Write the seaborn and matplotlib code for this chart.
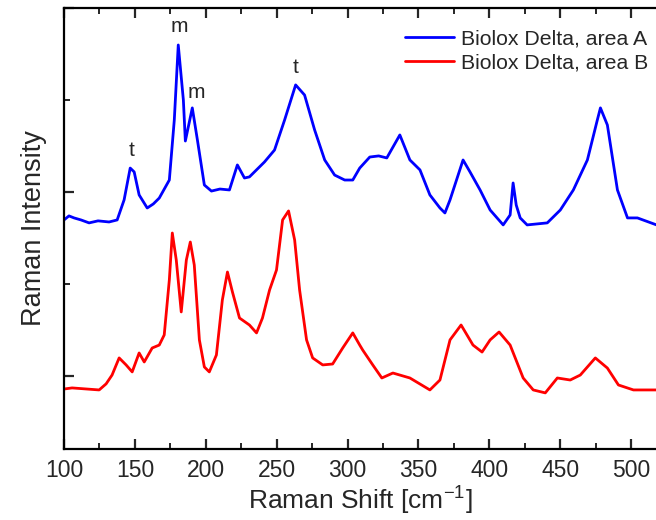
import numpy as np
import pandas as pd
import matplotlib
matplotlib.use("Agg")
import matplotlib.pyplot as plt
from matplotlib.ticker import MultipleLocator, NullFormatter
import seaborn as sns

# Area A (blue) spectrum
shift_a = [100.0, 103.5, 107.1, 112.0, 117.7, 124.0, 131.8, 137.5, 142.4, 146.7,
           149.5, 153.0, 158.7, 163.0, 167.2, 174.3, 177.8, 180.6, 184.2, 185.6,
           190.5, 194.1, 199.0, 204.0, 210.0, 216.7, 222.3, 227.3, 230.8, 241.4,
           248.5, 255.6, 263.4, 269.7, 276.8, 283.9, 290.9, 298.0, 303.7, 308.6,
           315.7, 322.0, 327.7, 336.9, 344.0, 351.1, 358.1, 365.2, 368.7, 372.3,
           381.5, 386.4, 393.5, 400.6, 409.8, 414.7, 416.8, 419.0, 421.8, 426.7,
           440.9, 450.1, 459.3, 469.2, 476.2, 478.4, 483.3, 490.4, 497.5, 504.5,
           518.0]
int_a = [848, 870, 859, 848, 832, 843, 837, 848, 957, 1130,
         1109, 984, 913, 935, 967, 1065, 1391, 1799, 1500, 1277,
         1457, 1283, 1038, 1005, 1016, 1011, 1147, 1076, 1082, 1163,
         1228, 1391, 1582, 1527, 1337, 1174, 1092, 1065, 1065, 1130,
         1190, 1196, 1185, 1310, 1174, 1120, 984, 913, 886, 957,
         1174, 1109, 1011, 902, 821, 875, 1049, 929, 859, 821,
         832, 902, 1011, 1174, 1391, 1457, 1364, 1011, 859, 859,
         821]

# Area B (red) spectrum
shift_b = [100.0, 105.7, 124.8, 129.7, 133.9, 138.9, 143.8, 148.1, 153.0, 156.6,
           162.2, 167.2, 170.7, 174.3, 176.4, 179.2, 182.7, 186.3, 189.1, 191.9,
           195.5, 199.0, 202.5, 207.5, 211.7, 215.3, 218.8, 223.8, 230.8, 235.8,
           240.0, 245.0, 249.9, 254.2, 258.4, 262.7, 266.2, 271.1, 275.4, 282.5,
           289.5, 296.6, 303.7, 308.6, 310.7, 317.8, 324.2, 332.0, 344.0, 358.1,
           365.2, 372.3, 380.1, 388.5, 394.9, 400.6, 406.9, 414.7, 423.9, 431.0,
           439.5, 448.0, 457.1, 464.2, 474.8, 483.3, 491.1, 501.7, 518.0]
int_b = [-71, -65, -76, -43, 5, 98, 60, 22, 125, 76,
         152, 168, 223, 522, 777, 630, 348, 630, 728, 603,
         196, 49, 22, 114, 413, 565, 457, 315, 277, 234,
         315, 467, 576, 848, 897, 739, 467, 196, 98, 60,
         65, 152, 234, 168, 141, 60, -11, 16, -11, -76,
         -22, 196, 277, 168, 130, 196, 239, 168, -11, -76,
         -92, -11, -22, 5, 98, 43, -49, -76, -76]

labels = ["Biolox Delta, area A", "Biolox Delta, area B"]
colors = ["#0000ff", "#ff0000"]

# Peak annotations
ann_text = ["t", "m", "m", "t"]
ann_x = [148, 181, 193, 263]
ann_y = [1228, 1897, 1543, 1674]

df = pd.concat([
    pd.DataFrame({"shift": shift_a, "intensity": int_a, "sample": labels[0]}),
    pd.DataFrame({"shift": shift_b, "intensity": int_b, "sample": labels[1]}),
], ignore_index=True)

sns.set_style("ticks")
plt.rcParams["font.family"] = ["Liberation Sans", "DejaVu Sans"]
plt.rcParams["mathtext.fontset"] = "custom"
plt.rcParams["mathtext.rm"] = "Liberation Sans"

fig = plt.figure(figsize=(6.56, 5.2), dpi=100)
ax = fig.add_axes([64/656, 71/520, 592/656, 441/520])

sns.lineplot(data=df, x="shift", y="intensity", hue="sample", palette=colors,
             hue_order=labels, linewidth=2.0, ax=ax, sort=False, estimator=None)

ax.set_xlim(100, 517.6)
ax.set_ylim(-397, 2000)
ax.xaxis.set_major_locator(MultipleLocator(50))
ax.xaxis.set_minor_locator(MultipleLocator(25))
ax.yaxis.set_major_locator(MultipleLocator(1000))
ax.yaxis.set_minor_locator(MultipleLocator(500))
ax.yaxis.set_major_formatter(NullFormatter())
ax.tick_params(axis="both", which="major", direction="in", length=7, width=1.6,
               top=True, right=False, labelsize=16.5, pad=7)
ax.tick_params(axis="both", which="minor", direction="in", length=4, width=1.4,
               top=True, right=False)
for s in ["left", "bottom", "top"]:
    ax.spines[s].set_linewidth(1.6)
    ax.spines[s].set_color("black")
ax.spines["right"].set_visible(False)

ax.set_xlabel("Raman Shift [cm$^{\\mathregular{-1}}$]", fontsize=19, labelpad=1)
ax.set_ylabel("Raman Intensity", fontsize=19.5, labelpad=5)

for t, x, y in zip(ann_text, ann_x, ann_y):
    ax.text(x, y, t, fontsize=15, ha="center", va="center")

leg = ax.legend(loc="upper right", bbox_to_anchor=(1.008, 0.98), frameon=False,
                fontsize=15.3, handlelength=2.3, handletextpad=0.3, labelspacing=0.25,
                borderaxespad=0.2)
for line in leg.get_lines():
    line.set_linewidth(2.0)

fig.savefig("out.png", dpi=100)
